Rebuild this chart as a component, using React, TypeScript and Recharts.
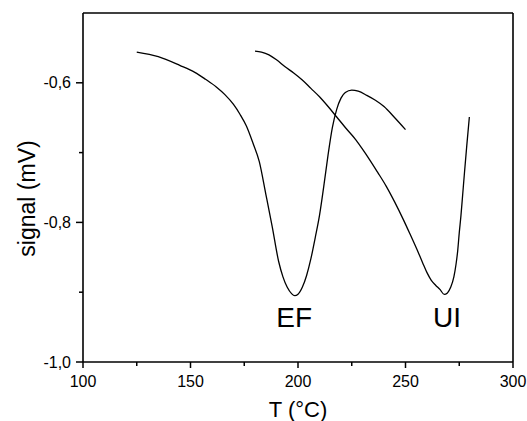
import React from 'react';
import {
   LineChart,
   Line,
   XAxis,
   YAxis,
   ReferenceLine,
   ReferenceDot,
} from 'recharts';

const FONT = '"Liberation Sans", Arial, Helvetica, sans-serif';

// EF curve
const efTemp = [
   125, 135, 145, 152, 157, 162, 166, 170, 173, 176, 179, 182, 185, 188, 191,
   193, 195, 197, 198.5, 200, 202, 204, 206, 208, 210, 212, 214, 216, 218, 220,
   222, 225, 228, 232, 236, 240, 245, 250,
];
const efSignal = [
   -0.556, -0.5625, -0.575, -0.585, -0.595, -0.606, -0.617, -0.631, -0.645,
   -0.662, -0.686, -0.713, -0.759, -0.806, -0.856, -0.878, -0.893, -0.902,
   -0.905, -0.903, -0.893, -0.876, -0.852, -0.822, -0.79, -0.748, -0.703,
   -0.664, -0.638, -0.622, -0.614, -0.6105, -0.612, -0.618, -0.625, -0.634,
   -0.65, -0.667,
];

// UI curve
const uiTemp = [
   180, 183, 186.5, 190, 194, 198, 202, 206, 210, 214, 218, 222, 227, 230,
   233.5, 237, 241, 245, 249, 252, 255.5, 258, 260, 262, 264, 266, 268, 269.5,
   271, 272.5, 273.5, 274.3, 275, 275.8, 276.6, 277.4, 278.5, 279.7,
];
const uiSignal = [
   -0.5545, -0.556, -0.56, -0.567, -0.577, -0.586, -0.596, -0.608, -0.62,
   -0.634, -0.649, -0.664, -0.682, -0.695, -0.711, -0.728, -0.748, -0.771,
   -0.796, -0.816, -0.84, -0.858, -0.872, -0.883, -0.89, -0.896, -0.903,
   -0.901, -0.893, -0.878, -0.86, -0.84, -0.815, -0.79, -0.76, -0.73, -0.69,
   -0.649,
];

const xTicks = [100, 125, 150, 175, 200, 225, 250, 275, 300];
const yTicks = [-1.0, -0.9, -0.8, -0.7, -0.6];

const peakNames = ['EF', 'UI'];
const peakTemp = [198.2, 269.3];
const peakSignal = [-0.935, -0.935];

const efData = efTemp.map((t, i) => ({ t, v: efSignal[i] }));
const uiData = uiTemp.map((t, i) => ({ t, v: uiSignal[i] }));

const XTick = ({ x, y, payload }: any) => {
   const major = payload.value % 50 === 0;
   const axisY = y - 14;
   return (
      <g>
         <line
            x1={x}
            x2={x}
            y1={axisY}
            y2={axisY + (major ? 6 : 4)}
            stroke="#000"
            strokeWidth={1.5}
         />
         {major && (
            <text
               x={x}
               y={y}
               dy="0.71em"
               textAnchor="middle"
               fontSize={16}
               fontFamily={FONT}
               fill="#000"
            >
               {payload.value}
            </text>
         )}
      </g>
   );
};

const YTick = ({ x, y, payload }: any) => {
   const major = Math.round(payload.value * 10) % 2 === 0;
   const axisX = x + 12;
   return (
      <g>
         <line
            x1={axisX - (major ? 7 : 4)}
            x2={axisX}
            y1={y}
            y2={y}
            stroke="#000"
            strokeWidth={1.5}
         />
         {major && (
            <text
               x={x}
               y={y}
               dy="0.355em"
               textAnchor="end"
               fontSize={16}
               fontFamily={FONT}
               fill="#000"
            >
               {payload.value.toFixed(1).replace('.', ',')}
            </text>
         )}
      </g>
   );
};

const YTitle = ({ viewBox }: any) => {
   const cx = viewBox.x + 27;
   const cy = viewBox.y + viewBox.height / 2 + 11;
   return (
      <text
         x={cx}
         y={cy}
         transform={`rotate(-90 ${cx} ${cy})`}
         textAnchor="middle"
         dy="0.355em"
         fontSize={23}
         fontFamily={FONT}
         fill="#000"
      >
         signal (mV)
      </text>
   );
};

const XTitle = ({ viewBox }: any) => {
   const cx = viewBox.x + viewBox.width / 2;
   return (
      <text
         x={cx}
         y={viewBox.y + 55}
         textAnchor="middle"
         fontSize={22}
         fontFamily={FONT}
         fill="#000"
      >
         T (°C)
      </text>
   );
};

const App = () => {
   return (
      <div style={{ position: 'absolute', left: 0, top: 0 }}>
         <LineChart
            width={527}
            height={421}
            margin={{ top: 13, right: 14, left: 0, bottom: 0 }}
         >
            <XAxis
               type="number"
               dataKey="t"
               domain={[100, 300]}
               ticks={xTicks}
               interval={0}
               height={59}
               tickSize={0}
               tickMargin={14}
               tickLine={false}
               tick={<XTick />}
               axisLine={{ stroke: '#000', strokeWidth: 1.6 }}
               label={<XTitle />}
            />
            <YAxis
               type="number"
               dataKey="v"
               domain={[-1.0, -0.5]}
               ticks={yTicks}
               interval={0}
               width={83}
               tickSize={0}
               tickMargin={12}
               tickLine={false}
               tick={<YTick />}
               axisLine={{ stroke: '#000', strokeWidth: 1.6 }}
               label={<YTitle />}
            />
            <ReferenceLine y={-0.5} stroke="#000" strokeWidth={1.6} />
            <ReferenceLine x={300} stroke="#000" strokeWidth={1.6} />

            <Line
               data={efData}
               dataKey="v"
               type="monotone"
               stroke="#000"
               strokeWidth={1.3}
               dot={false}
               isAnimationActive={false}
            />
            <Line
               data={uiData}
               dataKey="v"
               type="monotone"
               stroke="#000"
               strokeWidth={1.3}
               dot={false}
               isAnimationActive={false}
            />

            {peakNames.map((name, i) => (
               <ReferenceDot
                  key={name}
                  x={peakTemp[i]}
                  y={peakSignal[i]}
                  r={0}
                  fill="none"
                  stroke="none"
                  label={{
                     value: name,
                     position: 'center',
                     fontSize: 28,
                     fill: '#000',
                     fontFamily: FONT,
                  }}
               />
            ))}
         </LineChart>
      </div>
   );
};

export default App;
